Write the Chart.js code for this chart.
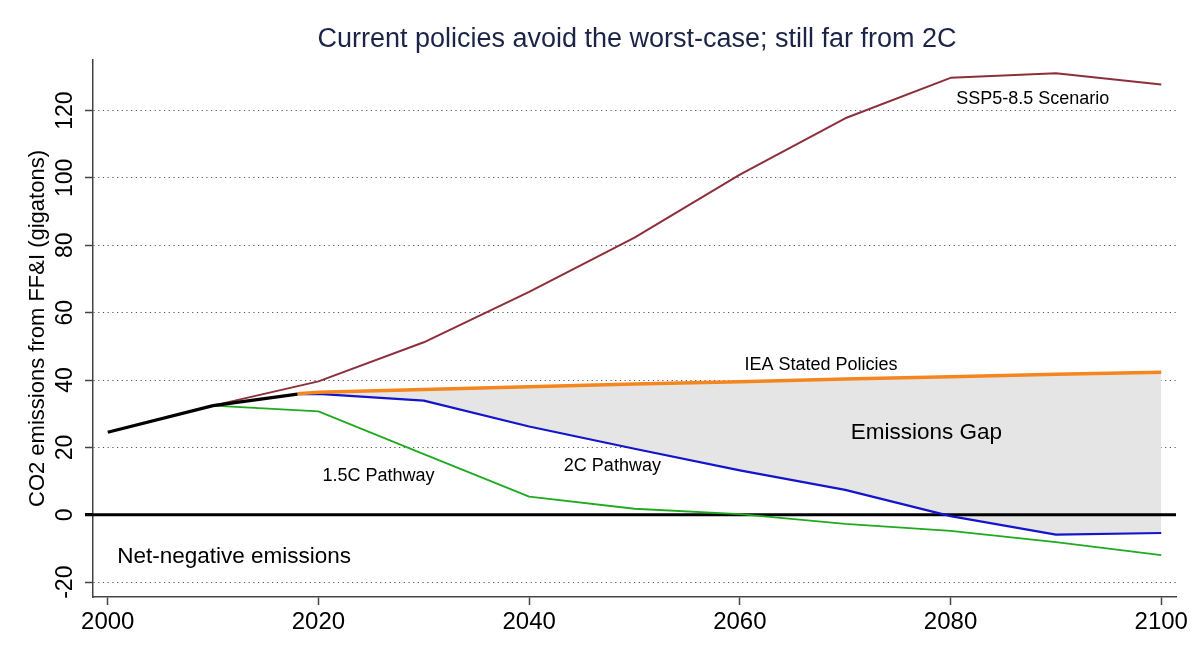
<!DOCTYPE html>
<html>
<head>
<meta charset="utf-8">
<title>Emissions pathways</title>
<script src="https://cdn.jsdelivr.net/npm/chart.js@4.4.1/dist/chart.umd.min.js"></script>
<style>
  html, body { margin: 0; padding: 0; background: #fff; }
  canvas { display: block; }
</style>
</head>
<body>
<canvas id="emissionsChart" width="1200" height="667"></canvas>
<script>
// values (gigatons CO2 from FF&I)
const histYears = [2000, 2010, 2018];
const histValues = [24.5, 32.4, 35.8];

const sspYears = [2010, 2020, 2030, 2040, 2050, 2060, 2070, 2080, 2090, 2100];
const sspValues = [32.4, 39.6, 51.2, 66.2, 82.3, 101.0, 117.7, 129.7, 131.1, 127.7];

const ieaYears = [2018, 2020, 2030, 2040, 2050, 2060, 2070, 2080, 2090, 2100];
const ieaValues = [35.9, 36.4, 37.2, 38.0, 38.8, 39.5, 40.3, 41.0, 41.7, 42.3];

const twoCYears = [2018, 2020, 2030, 2040, 2050, 2060, 2070, 2080, 2090, 2100];
const twoCValues = [35.8, 35.9, 33.9, 26.2, 19.6, 13.2, 7.4, -0.4, -5.9, -5.4];

const onePointFiveYears = [2010, 2020, 2030, 2040, 2050, 2060, 2070, 2080, 2090, 2100];
const onePointFiveValues = [32.4, 30.7, 18.0, 5.4, 1.8, 0.2, -2.7, -4.8, -8.1, -12.0];

const xTicks = [2000, 2020, 2040, 2060, 2080, 2100];
const yTicks = [-20, 0, 20, 40, 60, 80, 100, 120];

const titleText = 'Current policies avoid the worst-case; still far from 2C';
const yTitleText = 'CO2 emissions from FF&I (gigatons)';

// text notes placed in data units: [text, year, value, size]
const notes = [
  ['SSP5-8.5 Scenario', 2087.8, 123.5, 18],
  ['IEA Stated Policies', 2067.7, 44.6, 18],
  ['Emissions Gap', 2077.7, 24.4, 22.5],
  ['2C Pathway', 2047.9, 14.6, 18],
  ['1.5C Pathway', 2025.7, 11.6, 18],
  ['Net-negative emissions', 2012.0, -12.4, 22.5]
];

const FONT = '"Liberation Sans", Helvetica, Arial, sans-serif';

function pts(xs, ys) {
  return xs.map((x, i) => ({ x: x, y: ys[i] }));
}

const extras = {
  id: 'extras',
  beforeDatasetsDraw(chart) {
    const { ctx, chartArea, scales } = chart;
    const y0 = scales.y.getPixelForValue(0);
    ctx.save();
    ctx.strokeStyle = '#000';
    ctx.lineWidth = 3;
    ctx.beginPath();
    ctx.moveTo(chartArea.left - 8, y0);
    ctx.lineTo(chartArea.right, y0);
    ctx.stroke();
    ctx.restore();
  },
  afterDraw(chart) {
    const { ctx, chartArea, scales } = chart;
    ctx.save();
    ctx.fillStyle = '#1b2447';
    ctx.font = '27px ' + FONT;
    ctx.textAlign = 'center';
    ctx.textBaseline = 'middle';
    ctx.fillText(titleText, 637, 39.5);

    ctx.fillStyle = '#000';
    // rotated y tick labels
    ctx.font = '23px ' + FONT;
    yTicks.forEach(v => {
      ctx.save();
      ctx.translate(66, scales.y.getPixelForValue(v));
      ctx.rotate(-Math.PI / 2);
      ctx.fillText(String(v), 0, 0);
      ctx.restore();
    });

    // y axis title
    ctx.save();
    ctx.font = '22px ' + FONT;
    ctx.translate(38, (chartArea.top + chartArea.bottom) / 2);
    ctx.rotate(-Math.PI / 2);
    ctx.fillText(yTitleText, 0, 0);
    ctx.restore();

    notes.forEach(n => {
      ctx.font = n[3] + 'px ' + FONT;
      ctx.fillText(n[0], scales.x.getPixelForValue(n[1]), scales.y.getPixelForValue(n[2]));
    });
    ctx.restore();
  }
};

const lineBase = { pointRadius: 0, tension: 0, borderJoinStyle: 'round', borderCapStyle: 'butt', fill: false };

new Chart(document.getElementById('emissionsChart'), {
  type: 'line',
  data: {
    datasets: [
      Object.assign({}, lineBase, { label: 'Historical', data: pts(histYears, histValues), borderColor: '#000', borderWidth: 3.2 }),
      Object.assign({}, lineBase, { label: 'IEA Stated Policies', data: pts(ieaYears, ieaValues), borderColor: '#f5861f', borderWidth: 3.5 }),
      Object.assign({}, lineBase, { label: '2C Pathway', data: pts(twoCYears, twoCValues), borderColor: '#1414cc', borderWidth: 2.2, fill: 1, backgroundColor: '#e5e5e5' }),
      Object.assign({}, lineBase, { label: 'SSP5-8.5 Scenario', data: pts(sspYears, sspValues), borderColor: '#8c2f3b', borderWidth: 2 }),
      Object.assign({}, lineBase, { label: '1.5C Pathway', data: pts(onePointFiveYears, onePointFiveValues), borderColor: '#1faa1f', borderWidth: 1.8 })
    ]
  },
  options: {
    responsive: false,
    animation: false,
    events: [],
    layout: { padding: { top: 60, right: 24, left: 0, bottom: 0 } },
    plugins: {
      legend: { display: false },
      tooltip: { enabled: false },
      filler: { drawTime: 'beforeDatasetsDraw' }
    },
    scales: {
      x: {
        type: 'linear',
        min: 1998.6,
        max: 2101.4,
        afterBuildTicks: s => { s.ticks = xTicks.map(v => ({ value: v })); },
        afterFit: s => { s.height = 70; },
        grid: { drawOnChartArea: false, tickLength: 8, tickColor: '#444', tickWidth: 1.5 },
        border: { color: '#444', width: 1.5 },
        ticks: { color: '#000', padding: 3, maxRotation: 0, font: { size: 24, family: FONT }, callback: v => String(v) }
      },
      y: {
        type: 'linear',
        min: -24.4,
        max: 135,
        afterBuildTicks: s => { s.ticks = yTicks.map(v => ({ value: v })); },
        afterFit: s => { s.width = 93; },
        grid: {
          color: c => (c.tick && c.tick.value === 0 ? 'rgba(0,0,0,0)' : '#555'),
          lineWidth: 1,
          tickLength: 8,
          tickColor: c => (c.tick && c.tick.value === 0 ? '#000' : '#444'),
          tickWidth: c => (c.tick && c.tick.value === 0 ? 3 : 1.5)
        },
        border: { color: '#444', width: 1.5, dash: [1.2, 3.5] },
        ticks: { display: false }
      }
    }
  },
  plugins: [extras]
});
</script>
</body>
</html>
